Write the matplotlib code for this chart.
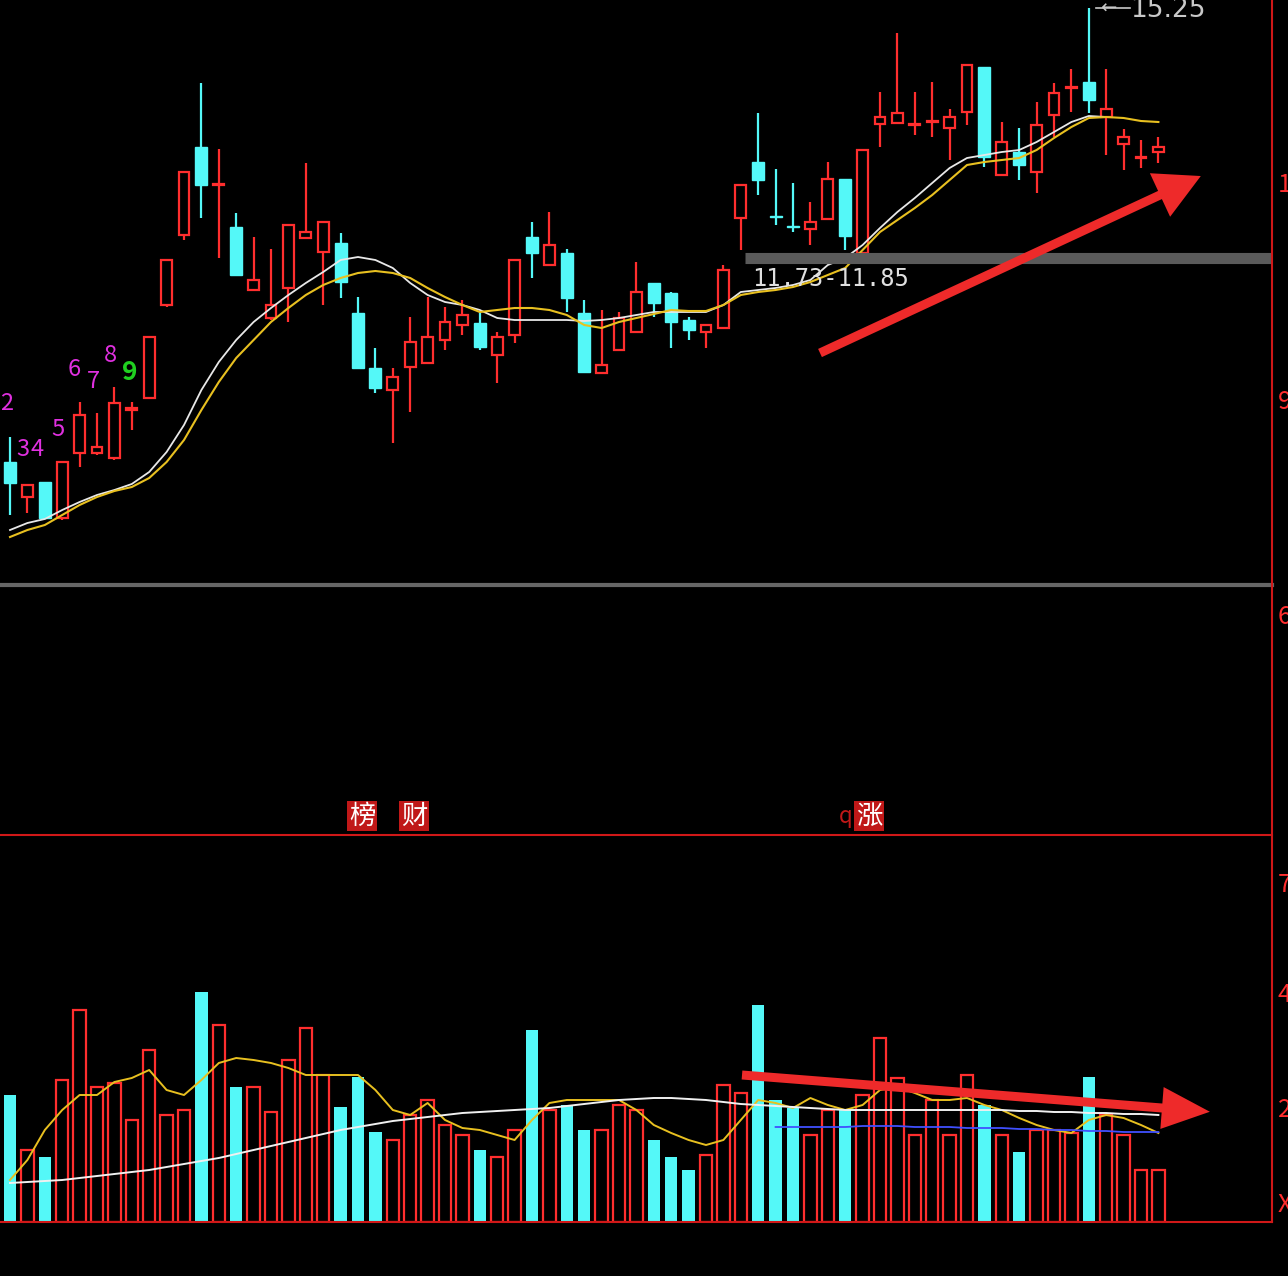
import matplotlib
matplotlib.use("Agg")
import matplotlib.pyplot as plt
from matplotlib.patches import FancyArrow
import numpy as np

plt.rcParams['font.family'] = ['Noto Sans CJK SC', 'DejaVu Sans']

W, H = 1288, 1276

# readings taken off the screen, in screen rows (smaller = higher price)
open_px = [462, 497, 482, 518, 453, 453, 458, 410, 398, 305, 235, 147, 185, 227, 290, 318, 288, 238, 252, 243,
           313, 368, 390, 367, 363, 340, 325, 323, 355, 335, 237, 265, 253, 313, 373, 350, 332, 283, 293, 320,
           332, 328, 218, 162, 216, 226, 229, 219, 179, 253, 124, 123, 125, 122, 128, 112, 67, 175, 152, 172,
           115, 88, 82, 117, 144, 158, 152]
close_px = [483, 485, 518, 462, 415, 447, 403, 408, 337, 260, 172, 185, 184, 275, 280, 305, 225, 232, 222, 282,
            368, 388, 377, 342, 337, 322, 315, 347, 337, 260, 253, 245, 298, 372, 365, 318, 292, 303, 322, 330,
            325, 270, 185, 180, 217, 227, 222, 179, 236, 150, 117, 113, 124, 121, 117, 65, 157, 142, 165, 125,
            93, 87, 100, 109, 137, 157, 147]
high_px = [437, 485, 482, 462, 402, 413, 387, 402, 337, 260, 172, 83, 149, 213, 237, 249, 225, 163, 222, 233,
           297, 348, 368, 317, 297, 307, 300, 313, 332, 260, 222, 212, 249, 300, 310, 312, 262, 283, 292, 317,
           325, 265, 185, 113, 169, 183, 202, 162, 179, 150, 92, 33, 92, 82, 109, 65, 67, 122, 128, 102,
           83, 69, 8, 69, 129, 140, 137]
low_px = [515, 513, 518, 520, 467, 455, 460, 430, 398, 307, 240, 218, 258, 275, 290, 320, 322, 238, 305, 298,
          368, 393, 443, 412, 363, 350, 335, 350, 383, 343, 278, 265, 312, 372, 373, 350, 332, 317, 348, 340,
          348, 328, 250, 195, 225, 232, 245, 219, 250, 253, 147, 123, 135, 137, 160, 125, 167, 175, 180, 193,
          137, 112, 113, 155, 170, 168, 163]
ma_white_px = [530, 523, 519, 510, 502, 495, 490, 484, 472, 452, 425, 390, 362, 340, 322, 308, 295, 283, 272, 260,
               257, 260, 268, 283, 295, 302, 305, 310, 318, 320, 320, 320, 320, 321, 320, 318, 315, 312, 312, 312,
               312, 305, 292, 290, 288, 285, 280, 265, 258, 245, 228, 212, 198, 183, 168, 158, 155, 152, 150, 142,
               132, 122, 116, 117]
ma_yellow_px = [537, 530, 525, 515, 505, 497, 491, 487, 478, 462, 440, 410, 382, 358, 340, 322, 308, 295, 285, 278,
                273, 271, 273, 278, 288, 297, 305, 312, 310, 308, 308, 310, 315, 325, 328, 322, 318, 314, 310, 311,
                311, 305, 295, 292, 290, 287, 282, 275, 268, 250, 232, 220, 208, 195, 180, 165, 162, 160, 158, 150,
                138, 127, 118, 117, 118, 121, 122]
vol_px = [1095, 1150, 1157, 1080, 1010, 1087, 1083, 1120, 1050, 1115, 1110, 992, 1025, 1087, 1087, 1112, 1060, 1028,
          1075, 1107, 1077, 1132, 1140, 1115, 1100, 1125, 1135, 1150, 1157, 1130, 1030, 1110, 1105, 1130, 1130, 1105,
          1110, 1140, 1157, 1170, 1155, 1085, 1093, 1005, 1100, 1108, 1135, 1110, 1110, 1095, 1038, 1078, 1135, 1100,
          1135, 1075, 1105, 1135, 1152, 1130, 1130, 1133, 1077, 1115, 1135, 1170, 1170]
vma_yellow_px = [1180, 1160, 1130, 1110, 1095, 1095, 1082, 1078, 1070, 1090, 1095, 1080, 1063, 1058, 1060, 1063, 1068,
                 1075, 1075, 1075, 1075, 1090, 1110, 1115, 1103, 1120, 1128, 1130, 1135, 1140, 1120, 1103, 1100, 1100,
                 1100, 1100, 1110, 1125, 1133, 1140, 1145, 1140, 1120, 1100, 1103, 1108, 1098, 1105, 1110, 1105, 1090,
                 1087, 1093, 1100, 1100, 1098, 1105, 1110, 1118, 1125, 1130, 1133, 1120, 1115, 1118, 1125, 1133]
vma_white_px = [1183, 1182, 1181, 1180, 1178, 1176, 1174, 1172, 1170, 1167, 1164, 1161, 1158, 1154, 1150, 1146, 1142,
                1138, 1134, 1130, 1127, 1124, 1121, 1119, 1117, 1115, 1113, 1112, 1111, 1110, 1109, 1108, 1106, 1104,
                1102, 1100, 1099, 1098, 1098, 1099, 1100, 1102, 1104, 1105, 1106, 1107, 1108, 1109, 1110, 1110, 1110,
                1110, 1110, 1110, 1110, 1110, 1110, 1110, 1111, 1111, 1112, 1112, 1113, 1113, 1114, 1114, 1115]
vma_blue_px = [1127, 1127, 1127, 1127, 1127, 1126, 1126, 1126, 1127, 1127, 1127, 1128, 1128, 1128, 1129, 1129,
               1130, 1130, 1131, 1131, 1132, 1132, 1132]
tick_digits = ["2", "3", "4", "5", "6", "7", "8", "9"]


def to_price(rows):
    return 9 + (400 - np.asarray(rows, float)) * 0.014


def to_vol(rows):
    return (1222 - np.asarray(rows, float)) * 100


RED = "#ff2e2e"
CYAN = "#54f8f8"

o, c, h, l = map(to_price, (open_px, close_px, high_px, low_px))
n = len(o)
x = np.arange(n)
up = c >= o

fig = plt.figure(figsize=(W / 100, H / 100), dpi=100)
fig.patch.set_facecolor("black")

step = 17.4
x0 = -10 / step
x1 = (1272 - 10) / step

ax = fig.add_axes([0, 1 - 585 / H, 1272 / W, 585 / H])
ax.set_facecolor("black")
ax.set_xlim(x0, x1)
ax.set_ylim(to_price(585), to_price(0))
ax.axis("off")

for i in range(n):
    col = RED if up[i] else CYAN
    ax.vlines(x[i], l[i], h[i], color=col, lw=1.6, zorder=2)
    bot = min(o[i], c[i])
    ht = max(abs(c[i] - o[i]), 0.004)
    if up[i]:
        ax.bar(x[i], ht, bottom=bot, width=0.62, facecolor="black", edgecolor=col, lw=1.6, zorder=3)
    else:
        ax.bar(x[i], ht, bottom=bot, width=0.7, color=col, edgecolor=col, lw=1, zorder=3)

ax.plot(np.arange(len(ma_white_px)), to_price(ma_white_px), color="#e8e8e8", lw=1.3, zorder=4)
ax.plot(np.arange(len(ma_yellow_px)), to_price(ma_yellow_px), color="#e8c020", lw=1.5, zorder=4)

ax2 = fig.add_axes([0, 1 - 1222 / H, 1272 / W, (1222 - 835) / H])
ax2.set_facecolor("black")
ax2.set_xlim(x0, x1)
ax2.set_ylim(0, 387 * 100)
ax2.axis("off")
v = to_vol(vol_px)
for i in range(n):
    if up[i]:
        ax2.bar(x[i], v[i], width=0.72, facecolor="black", edgecolor=RED, lw=1.6, zorder=2)
    else:
        ax2.bar(x[i], v[i], width=0.72, color=CYAN, zorder=2)
ax2.plot(np.arange(len(vma_yellow_px)), to_vol(vma_yellow_px), color="#e8c020", lw=1.4, zorder=4)
ax2.plot(np.arange(len(vma_white_px)), to_vol(vma_white_px), color="#f0f0f0", lw=1.4, zorder=4)
ax2.plot(np.arange(44, 44 + len(vma_blue_px)), to_vol(vma_blue_px), color="#4050ff", lw=1.3, zorder=4)


def fx(px):
    return px / W


def fy(py):
    return 1 - py / H


ov = fig.add_axes([0, 0, 1, 1])
ov.set_xlim(0, W)
ov.set_ylim(H, 0)
ov.axis("off")
ov.patch.set_alpha(0)

# separators
ov.plot([0, 1272], [585, 585], color="#666666", lw=3)
ov.plot([0, 1272], [835, 835], color="#d01818", lw=1.5)
ov.plot([0, 1272], [1222, 1222], color="#d01818", lw=1.5)
ov.plot([1272, 1272], [0, 1222], color="#d01818", lw=1.5)
ov.plot([745, 1272], [258, 258], color="#5a5a5a", lw=8, solid_capstyle="butt", zorder=1)
ov.text(752, 279, "11.73-11.85", color="#e0e0e0", fontsize=17, va="center", family="DejaVu Sans Mono")

# high mark
ov.plot([1096, 1130], [8, 8], color="#c8c8c8", lw=1.2)
ov.text(1100, 8, "←", color="#c8c8c8", fontsize=14, va="center", family="DejaVu Sans")
ov.text(1130, 10, "15.25", color="#c8c8c8", fontsize=19, va="center", family="DejaVu Sans")

# right axis fragments
for txt, yy in [("1", 185), ("9", 402), ("6", 617), ("7", 885), ("4", 995), ("2", 1110), ("X", 1205)]:
    ov.text(1278, yy, txt, color=RED, fontsize=18, va="center", clip_on=False)

# sequence digits
digit_pos = [(0, 403), (16, 450), (31, 450), (51, 430), (68, 370), (87, 382), (104, 355), (122, 373)]
for d, (tx, ty) in zip(tick_digits, digit_pos):
    if d == "9":
        ov.text(tx, ty, d, color="#20d020", fontsize=19, fontweight="bold", va="center")
    else:
        ov.text(tx, ty, d, color="#e030e0", fontsize=17, va="center")

# labels
for txt, tx in [("榜", 362), ("财", 414), ("涨", 869)]:
    ov.text(tx, 816, txt, color="white", fontsize=19, ha="center", va="center",
            bbox=dict(boxstyle="square,pad=0.05", fc="#c01818", ec="none"))
ov.text(846, 816, "q", color="#c01818", fontsize=16, ha="center", va="center")

# arrows
ov.add_patch(FancyArrow(820, 353, 340, -158, width=9, head_width=48, head_length=45,
                        length_includes_head=False, color="#ee2a2a", lw=0, zorder=6))
ov.add_patch(FancyArrow(742, 1075, 420, 33, width=9, head_width=42, head_length=48,
                        length_includes_head=False, color="#ee2a2a", lw=0, zorder=6))

fig.savefig("out.png", dpi=100, facecolor="black")
